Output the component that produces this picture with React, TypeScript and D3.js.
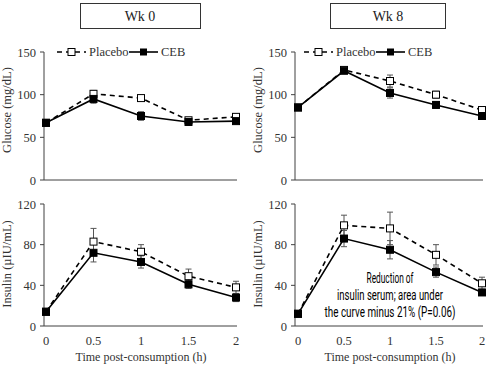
import React, { useEffect, useRef, useState } from "react";
import * as d3 from "d3";

const times = [0, 0.5, 1, 1.5, 2];

const glucoseWk0Placebo = [67, 101, 96, 70, 74];
const glucoseWk0PlaceboErr = [2, 4, 3, 3, 3];
const glucoseWk0CEB = [67, 95, 75, 68, 69];
const glucoseWk0CEBErr = [2, 5, 5, 3, 3];

const glucoseWk8Placebo = [85, 129, 116, 100, 82];
const glucoseWk8PlaceboErr = [3, 3, 7, 4, 3];
const glucoseWk8CEB = [85, 128, 102, 88, 75];
const glucoseWk8CEBErr = [3, 3, 6, 4, 3];

const insulinWk0Placebo = [14, 83, 73, 49, 38];
const insulinWk0PlaceboErr = [2, 13, 7, 7, 6];
const insulinWk0CEB = [14, 72, 63, 41, 28];
const insulinWk0CEBErr = [2, 9, 6, 4, 4];

const insulinWk8Placebo = [12, 99, 96, 70, 42];
const insulinWk8PlaceboErr = [2, 10, 16, 10, 6];
const insulinWk8CEB = [12, 86, 75, 53, 33];
const insulinWk8CEBErr = [2, 8, 9, 5, 3];

const glucoseTicks = [0, 50, 100, 150];
const insulinTicks = [0, 40, 80, 120];
const xTickLabels = ["0", "0.5", "1", "1.5", "2"];
const panelTitles = ["Wk 0", "Wk 8"];
const seriesNames = ["Placebo", "CEB"];
const annotationLines = ["Reduction of", "insulin serum; area under", "the curve minus 21% (P=0.06)"];
const annotationWidths = [47, 106, 131];

const AXIS = "#404040";
const SERIF = "'Times New Roman', Times, 'Liberation Serif', serif";
const NARROW = "Roboto, 'Liberation Sans', sans-serif";

type PanelProps = {
  x0: number;
  x1: number;
  axisL: number;
  axisR: number;
  yTop: number;
  yBot: number;
  yMax: number;
  ticks: number[];
  placebo: number[];
  placeboErr: number[];
  ceb: number[];
  cebErr: number[];
  yLabel: string;
  labelX: number;
  labelY: number;
  showX: boolean;
};

function Panel(p: PanelProps) {
  const x = d3.scaleLinear().domain([0, 2]).range([p.x0, p.x1]);
  const y = d3.scaleLinear().domain([0, p.yMax]).range([p.yBot, p.yTop]);
  const line = d3
    .line<number>()
    .x((_, i) => x(times[i]))
    .y((v) => y(v));
  const sq = 7;
  const errBars = (vals: number[], errs: number[], key: string) =>
    vals.map((v, i) => {
      const cx = x(times[i]);
      const yt = y(v + errs[i]);
      const yb = y(v - errs[i]);
      return (
        <g key={key + i} stroke="#555" strokeWidth={1}>
          <line x1={cx} x2={cx} y1={yt} y2={yb} />
          <line x1={cx - 3} x2={cx + 3} y1={yt} y2={yt} />
          <line x1={cx - 3} x2={cx + 3} y1={yb} y2={yb} />
        </g>
      );
    });
  return (
    <g>
      <line x1={p.axisL} x2={p.axisL} y1={p.yTop} y2={p.yBot} stroke={AXIS} strokeWidth={1} />
      <line x1={p.axisL} x2={p.axisR} y1={p.yBot} y2={p.yBot} stroke={AXIS} strokeWidth={1} />
      {p.ticks.map((t) => (
        <g key={t}>
          <line x1={p.axisL - 4} x2={p.axisL} y1={y(t)} y2={y(t)} stroke={AXIS} />
          <text x={p.axisL - 8} y={y(t) + 4.5} textAnchor="end" fontSize={12.5} fontFamily={SERIF} fill="#333">
            {t}
          </text>
        </g>
      ))}
      {p.showX &&
        times.map((t, i) => (
          <text key={t} x={x(t)} y={p.yBot + 19} textAnchor="middle" fontSize={12.5} fontFamily={SERIF} fill="#333">
            {xTickLabels[i]}
          </text>
        ))}
      {p.showX && (
        <text x={(p.x0 + p.x1) / 2} y={p.yBot + 35} textAnchor="middle" fontSize={12} fontFamily={SERIF} fill="#333">
          Time post-consumption (h)
        </text>
      )}
      <text
        transform={`translate(${p.labelX},${p.labelY}) rotate(-90)`}
        textAnchor="middle"
        fontSize={12.5}
        fontFamily={SERIF}
        fill="#333"
      >
        {p.yLabel}
      </text>
      {errBars(p.placebo, p.placeboErr, "pe")}
      {errBars(p.ceb, p.cebErr, "ce")}
      <path d={line(p.placebo) || ""} fill="none" stroke="#000" strokeWidth={1.6} strokeDasharray="5,4" />
      <path d={line(p.ceb) || ""} fill="none" stroke="#000" strokeWidth={1.6} />
      {p.placebo.map((v, i) => (
        <rect key={"p" + i} x={x(times[i]) - sq / 2} y={y(v) - sq / 2} width={sq} height={sq} fill="#fff" stroke="#000" strokeWidth={1} />
      ))}
      {p.ceb.map((v, i) => (
        <rect key={"c" + i} x={x(times[i]) - sq / 2} y={y(v) - sq / 2} width={sq} height={sq} fill="#000" stroke="#000" strokeWidth={1} />
      ))}
    </g>
  );
}

function Legend({ dx }: { dx: number }) {
  const yy = 52;
  return (
    <g transform={`translate(${dx},0)`}>
      <line x1={57} x2={86} y1={yy} y2={yy} stroke="#000" strokeWidth={1.6} strokeDasharray="5,4" />
      <rect x={68} y={yy - 3.5} width={7} height={7} fill="#fff" stroke="#000" />
      <text x={89} y={yy + 4} fontSize={12.5} fontFamily={SERIF} fill="#333">
        {seriesNames[0]}
      </text>
      <line x1={129} x2={158} y1={yy} y2={yy} stroke="#000" strokeWidth={1.6} />
      <rect x={140} y={yy - 3.5} width={7} height={7} fill="#000" />
      <text x={161} y={yy + 4} fontSize={12.5} fontFamily={SERIF} fill="#333">
        {seriesNames[1]}
      </text>
    </g>
  );
}

function Annotation() {
  const refs = useRef<(SVGTextElement | null)[]>([]);
  const [scales, setScales] = useState<number[]>(annotationLines.map(() => 0.7));
  useEffect(() => {
    const s = refs.current.map((el, i) => {
      if (!el) return 0.7;
      const w = el.getComputedTextLength();
      return w > 0 ? annotationWidths[i] / w : 0.7;
    });
    setScales(s);
  }, []);
  return (
    <g>
      {annotationLines.map((t, i) => (
        <g key={i} transform={`translate(390,${283 + i * 17}) scale(${scales[i]},1)`}>
          <text
            ref={(el) => {
              refs.current[i] = el;
            }}
            x={0}
            y={0}
            textAnchor="middle"
            fontSize={15}
            fontFamily={NARROW}
            fill="#000"
          >
            {t}
          </text>
        </g>
      ))}
    </g>
  );
}

export default function App() {
  return (
    <svg width={490} height={366} style={{ position: "absolute", left: 0, top: 0, background: "#fff" }}>
      <rect x={0} y={0} width={490} height={366} fill="#fff" />
      <rect x={80.5} y={3.5} width={120} height={25} fill="#fff" stroke="#333" />
      <text x={140} y={21} textAnchor="middle" fontSize={14} fontFamily={SERIF} fill="#222">
        {panelTitles[0]}
      </text>
      <rect x={330.5} y={3.5} width={115} height={25} fill="#fff" stroke="#333" />
      <text x={388} y={21} textAnchor="middle" fontSize={14} fontFamily={SERIF} fill="#222">
        {panelTitles[1]}
      </text>

      <Panel
        x0={46} x1={236} axisL={44} axisR={237} yTop={52} yBot={180} yMax={150}
        ticks={glucoseTicks}
        placebo={glucoseWk0Placebo} placeboErr={glucoseWk0PlaceboErr}
        ceb={glucoseWk0CEB} cebErr={glucoseWk0CEBErr}
        yLabel="Glucose (mg/dL)" labelX={11} labelY={110} showX={false}
      />
      <Panel
        x0={298} x1={482} axisL={295} axisR={483} yTop={52} yBot={180} yMax={150}
        ticks={glucoseTicks}
        placebo={glucoseWk8Placebo} placeboErr={glucoseWk8PlaceboErr}
        ceb={glucoseWk8CEB} cebErr={glucoseWk8CEBErr}
        yLabel="Glucose (mg/dL)" labelX={262} labelY={110} showX={false}
      />
      <Panel
        x0={46} x1={236} axisL={44} axisR={237} yTop={204} yBot={326} yMax={120}
        ticks={insulinTicks}
        placebo={insulinWk0Placebo} placeboErr={insulinWk0PlaceboErr}
        ceb={insulinWk0CEB} cebErr={insulinWk0CEBErr}
        yLabel="Insulin (µIU/mL)" labelX={11} labelY={264} showX={true}
      />
      <Panel
        x0={298} x1={482} axisL={295} axisR={483} yTop={204} yBot={326} yMax={120}
        ticks={insulinTicks}
        placebo={insulinWk8Placebo} placeboErr={insulinWk8PlaceboErr}
        ceb={insulinWk8CEB} cebErr={insulinWk8CEBErr}
        yLabel="Insulin (µIU/mL)" labelX={262} labelY={264} showX={true}
      />
      <Legend dx={0} />
      <Legend dx={247} />
      <Annotation />
    </svg>
  );
}
